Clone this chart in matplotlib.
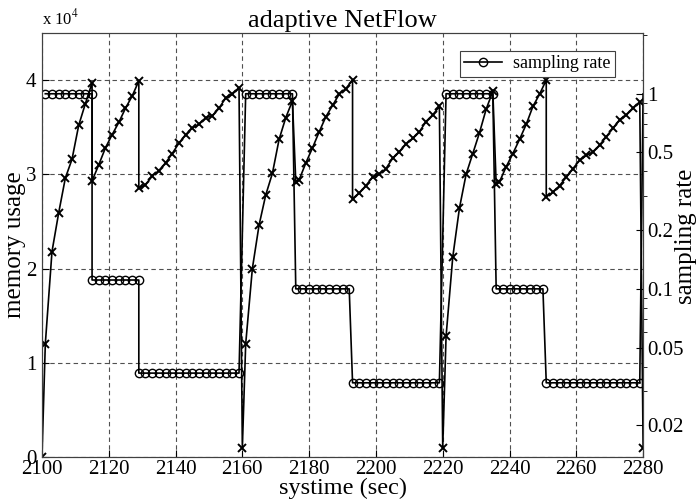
import numpy as np
import matplotlib
matplotlib.use("Agg")
import matplotlib.pyplot as plt
from matplotlib.ticker import FixedLocator, NullFormatter, LogLocator

plt.rcParams['font.family'] = ['Liberation Serif', 'DejaVu Serif']
plt.rcParams['mathtext.fontset'] = 'stix'

# memory usage (x markers)
mem_t = [2100, 2101, 2103, 2105, 2107, 2109, 2111, 2113, 2115,
         2115, 2117, 2119, 2121, 2123, 2125, 2127, 2129,
         2129, 2131, 2133, 2135, 2137, 2139, 2141, 2143, 2145, 2147, 2149, 2151, 2153, 2155, 2157, 2159,
         2160, 2161, 2163, 2165, 2167, 2169, 2171, 2173, 2175,
         2176, 2177, 2179, 2181, 2183, 2185, 2187, 2189, 2191, 2193,
         2193, 2195, 2197, 2199, 2201, 2203, 2205, 2207, 2209, 2211, 2213, 2215, 2217, 2219,
         2220, 2221, 2223, 2225, 2227, 2229, 2231, 2233, 2235,
         2236, 2237, 2239, 2241, 2243, 2245, 2247, 2249, 2251,
         2251, 2253, 2255, 2257, 2259, 2261, 2263, 2265, 2267, 2269, 2271, 2273, 2275, 2277, 2279,
         2280]
mem_v = [0, 12000, 21800, 25900, 29600, 31600, 35200, 37500, 39700,
         29300, 31000, 32800, 34200, 35500, 37000, 38300, 39900,
         28500, 28900, 29800, 30400, 31200, 32200, 33300, 34200, 34900, 35300, 36000, 36200, 37000, 38100, 38500, 39200,
         1000, 12000, 20000, 24600, 27800, 30100, 33700, 36000, 37800,
         29200, 29400, 31200, 32800, 34500, 36100, 37300, 38500, 39100, 40000,
         27400, 28000, 28800, 29700, 30000, 30600, 31700, 32400, 33200, 33800, 34500, 35600, 36300, 37200,
         1000, 12800, 21200, 26400, 30000, 32200, 34400, 36900, 38800,
         29000, 29200, 30800, 32200, 33700, 35300, 37200, 38500, 40000,
         27600, 28100, 28800, 29700, 30600, 31500, 32000, 32400, 33100, 34000, 34900, 35800, 36300, 37000, 37700,
         1000]

# sampling rate (circle markers)
rate_t = [2101, 2103, 2105, 2107, 2109, 2111, 2113, 2115,
          2115, 2117, 2119, 2121, 2123, 2125, 2127, 2129,
          2129, 2131, 2133, 2135, 2137, 2139, 2141, 2143, 2145, 2147, 2149, 2151, 2153, 2155, 2157, 2159,
          2161, 2163, 2165, 2167, 2169, 2171, 2173, 2175,
          2176, 2178, 2180, 2182, 2184, 2186, 2188, 2190, 2192,
          2193, 2195, 2197, 2199, 2201, 2203, 2205, 2207, 2209, 2211, 2213, 2215, 2217, 2219,
          2221, 2223, 2225, 2227, 2229, 2231, 2233, 2235,
          2236, 2238, 2240, 2242, 2244, 2246, 2248, 2250,
          2251, 2253, 2255, 2257, 2259, 2261, 2263, 2265, 2267, 2269, 2271, 2273, 2275, 2277, 2279,
          2280]
rate_v = [1.0] * 8 + [0.111] * 8 + [0.037] * 16 + \
         [1.0] * 8 + [0.1] * 9 + [0.033] * 14 + \
         [1.0] * 8 + [0.1] * 8 + [0.033] * 15 + [1.0]

fig = plt.figure(figsize=(6.96, 4.99), dpi=100)
ax = fig.add_axes([0.0603, 0.0842, 0.8637, 0.8498])
ax2 = ax.twinx()

ax.plot(mem_t, mem_v, color='k', lw=1.2, marker='x', ms=6, mew=1.4)
# last circle (at the right spine) is hidden, only the line rises there
ax2.plot(rate_t[:-1], rate_v[:-1], color='k', lw=1.2, marker='o', ms=6, mfc='none', mew=1.0,
         label='sampling rate')
ax2.plot(rate_t[-2:], rate_v[-2:], color='k', lw=1.2)

ax.set_xlim(2100, 2280)
ax.set_ylim(0, 45000)
ax.set_xticks([2100, 2120, 2140, 2160, 2180, 2200, 2220, 2240, 2260, 2280])
ax.set_yticks([0, 10000, 20000, 30000, 40000])
ax.set_yticklabels(['0', '1', '2', '3', '4'])
ax.grid(True, color='#505050', linestyle=(0, (4, 3)), linewidth=0.8)

ax2.set_yscale('log')
ax2.set_ylim(0.01375, 2.05)
ax2.yaxis.set_major_locator(FixedLocator([0.02, 0.05, 0.1, 0.2, 0.5, 1]))
ax2.set_yticklabels(['0.02', '0.05', '0.1', '0.2', '0.5', '1'])
ax2.yaxis.set_minor_locator(LogLocator(base=10, subs=np.arange(2, 10)))
ax2.yaxis.set_minor_formatter(NullFormatter())

for a in (ax, ax2):
    for s in a.spines.values():
        s.set_color('#404040')
    a.tick_params(direction='in', labelsize=15, colors='k', width=0.8)
ax.tick_params(axis='x', length=5, pad=2)
ax.tick_params(axis='y', length=5, pad=4)
ax2.tick_params(which='major', length=5, pad=3)
ax2.tick_params(which='minor', length=3)

ax.set_title('adaptive NetFlow', fontsize=19, pad=4)
ax.set_xlabel('systime (sec)', fontsize=17.5, labelpad=-1)
ax.set_ylabel('memory usage', fontsize=18, labelpad=0)
fig.text(686 / 696, 1 - 236 / 499, 'sampling rate', fontsize=18, rotation=90,
         ha='center', va='center')
ax.text(0.0, 1.01, r'x 10$^4$', transform=ax.transAxes, fontsize=12, ha='left', va='bottom')

leg = ax2.legend(loc='upper right', bbox_to_anchor=(0.953, 0.958), borderaxespad=0,
                 fontsize=13, fancybox=False, edgecolor='#404040', framealpha=1,
                 handlelength=2.1, handletextpad=0.6, borderpad=0.25)
leg.get_frame().set_linewidth(0.8)

fig.savefig('out.png', dpi=100)
